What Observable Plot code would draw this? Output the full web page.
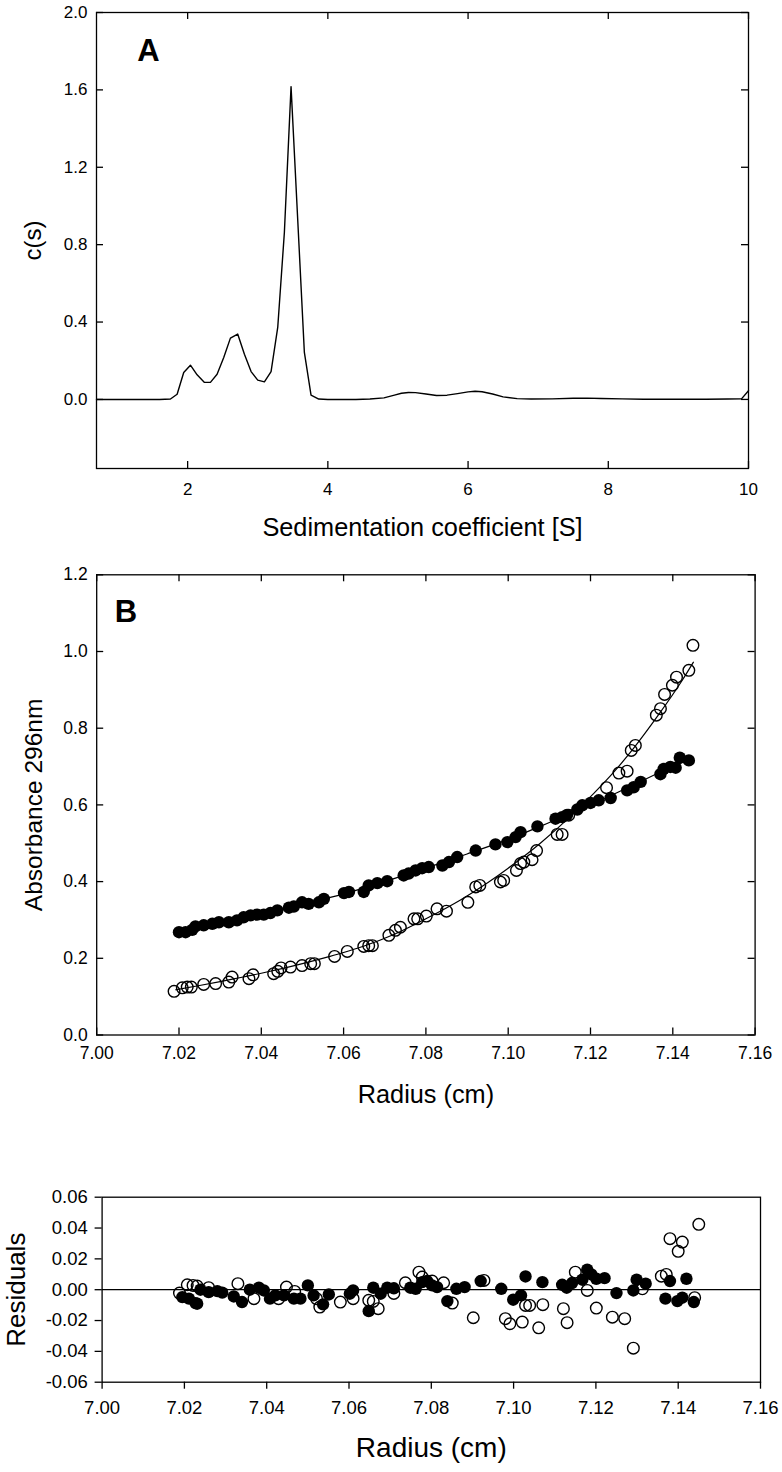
<!DOCTYPE html>
<html><head><meta charset="utf-8">
<script src="https://cdn.jsdelivr.net/npm/d3@7"></script>
<script src="https://cdn.jsdelivr.net/npm/@observablehq/plot@0.6"></script>
<style>
html,body{margin:0;padding:0;background:#fff;}
#chart{position:relative;width:782px;height:1472px;overflow:hidden;background:#fff;}
#chart svg{position:absolute;left:0;}
</style></head><body><div id="chart"></div>
<script>
// ---------- Panel A: c(s) distribution ----------
const sedCoeff = [0.70, 1.00, 1.30, 1.60, 1.755, 1.85, 1.944, 2.04, 2.135, 2.24, 2.325, 2.42, 2.515, 2.61, 2.714, 2.81, 2.905, 3.00, 3.095, 3.19, 3.285, 3.38, 3.475, 3.57, 3.665, 3.76, 3.87, 4.00, 4.20, 4.40, 4.60, 4.80, 4.95, 5.05, 5.15, 5.25, 5.40, 5.55, 5.70, 5.85, 6.00, 6.10, 6.20, 6.35, 6.50, 6.70, 6.90, 7.20, 7.50, 7.70, 7.90, 8.20, 8.50, 8.80, 9.10, 9.40, 9.70, 9.90, 10.00];
const csValues = [0, 0, 0, 0, 0.002, 0.027, 0.139, 0.177, 0.127, 0.088, 0.088, 0.130, 0.217, 0.317, 0.338, 0.234, 0.144, 0.100, 0.091, 0.144, 0.372, 0.864, 1.617, 0.930, 0.243, 0.022, 0.002, 0, 0, 0, 0.002, 0.008, 0.022, 0.032, 0.036, 0.035, 0.028, 0.020, 0.022, 0.030, 0.039, 0.042, 0.040, 0.028, 0.013, 0.004, 0.002, 0.003, 0.006, 0.007, 0.005, 0.003, 0.001, 0.001, 0.001, 0.001, 0.002, 0.003, 0.045];
const sedTicks = [2, 4, 6, 8, 10];
const csTicks = [0.0, 0.4, 0.8, 1.2, 1.6, 2.0];

// ---------- Panel B: absorbance scans ----------
const filledRadius = [7.0200, 7.0216, 7.0232, 7.0240, 7.0260, 7.0281, 7.0297, 7.0321, 7.0341, 7.0357, 7.0374, 7.0390, 7.0406, 7.0422, 7.0439, 7.0467, 7.0479, 7.0499, 7.0515, 7.0540, 7.0552, 7.0601, 7.0613, 7.0649, 7.0661, 7.0682, 7.0706, 7.0746, 7.0758, 7.0775, 7.0791, 7.0807, 7.0840, 7.0856, 7.0876, 7.0921, 7.0969, 7.0998, 7.1018, 7.1030, 7.1071, 7.1115, 7.1131, 7.1143, 7.1168, 7.1180, 7.1200, 7.1220, 7.1249, 7.1289, 7.1305, 7.1322, 7.1370, 7.1378, 7.1394, 7.1407, 7.1417, 7.1439];
const filledAbs = [0.268, 0.268, 0.274, 0.283, 0.286, 0.290, 0.294, 0.294, 0.299, 0.307, 0.312, 0.314, 0.314, 0.318, 0.325, 0.332, 0.335, 0.346, 0.342, 0.346, 0.355, 0.370, 0.373, 0.373, 0.390, 0.396, 0.401, 0.416, 0.421, 0.429, 0.435, 0.438, 0.442, 0.451, 0.464, 0.481, 0.497, 0.503, 0.516, 0.529, 0.544, 0.564, 0.568, 0.574, 0.588, 0.599, 0.605, 0.612, 0.618, 0.638, 0.646, 0.660, 0.680, 0.694, 0.699, 0.697, 0.723, 0.716];
const openRadius = [7.0188, 7.0208, 7.0220, 7.0230, 7.0260, 7.0289, 7.0321, 7.0329, 7.0370, 7.0380, 7.0430, 7.0440, 7.0448, 7.0471, 7.0499, 7.0520, 7.0529, 7.0578, 7.0609, 7.0649, 7.0661, 7.0670, 7.0710, 7.0726, 7.0738, 7.0771, 7.0780, 7.0801, 7.0827, 7.0850, 7.0902, 7.0921, 7.0931, 7.0981, 7.0989, 7.1020, 7.1030, 7.1038, 7.1058, 7.1069, 7.1119, 7.1131, 7.1147, 7.1239, 7.1269, 7.1289, 7.1299, 7.1309, 7.1360, 7.1370, 7.1380, 7.1399, 7.1409, 7.1439, 7.1449];
const openAbs = [0.114, 0.123, 0.125, 0.125, 0.132, 0.134, 0.138, 0.151, 0.147, 0.157, 0.160, 0.166, 0.175, 0.177, 0.181, 0.186, 0.186, 0.205, 0.218, 0.231, 0.233, 0.233, 0.260, 0.273, 0.281, 0.303, 0.303, 0.310, 0.329, 0.323, 0.346, 0.386, 0.390, 0.399, 0.403, 0.429, 0.447, 0.451, 0.457, 0.481, 0.523, 0.523, 0.573, 0.645, 0.683, 0.688, 0.742, 0.755, 0.834, 0.851, 0.888, 0.912, 0.933, 0.951, 1.016];
const filledFitRadius = [7.020, 7.030, 7.040, 7.050, 7.060, 7.070, 7.080, 7.090, 7.100, 7.110, 7.120, 7.130, 7.140, 7.144];
const filledFitAbs = [0.267, 0.290, 0.313, 0.340, 0.368, 0.400, 0.435, 0.472, 0.510, 0.554, 0.600, 0.650, 0.700, 0.718];
const openFitRadius = [7.0192, 7.025, 7.030, 7.035, 7.040, 7.045, 7.050, 7.056, 7.060, 7.065, 7.0722, 7.080, 7.0884, 7.095, 7.100, 7.1078, 7.1159, 7.1208, 7.1257, 7.1305, 7.1362, 7.1423, 7.1450];
const openFitAbs = [0.118, 0.129, 0.139, 0.150, 0.161, 0.173, 0.186, 0.203, 0.215, 0.232, 0.262, 0.303, 0.352, 0.397, 0.435, 0.500, 0.578, 0.630, 0.686, 0.748, 0.830, 0.925, 0.972];
const radiusTicks = [7.00, 7.02, 7.04, 7.06, 7.08, 7.10, 7.12, 7.14, 7.16];
const absTicks = [0.0, 0.2, 0.4, 0.6, 0.8, 1.0, 1.2];

// ---------- Panel C: residuals ----------
const resFilledRadius = [7.0195, 7.0211, 7.0227, 7.0231, 7.0239, 7.0259, 7.0280, 7.0292, 7.0320, 7.0340, 7.0359, 7.0381, 7.0393, 7.0408, 7.0421, 7.0442, 7.0466, 7.0482, 7.0500, 7.0514, 7.0537, 7.0551, 7.0602, 7.0610, 7.0648, 7.0659, 7.0677, 7.0693, 7.0709, 7.0749, 7.0762, 7.0778, 7.0790, 7.0802, 7.0814, 7.0839, 7.0861, 7.0881, 7.0920, 7.0970, 7.0999, 7.1018, 7.1029, 7.1070, 7.1118, 7.1129, 7.1142, 7.1167, 7.1179, 7.1189, 7.1201, 7.1221, 7.1250, 7.1291, 7.1299, 7.1321, 7.1369, 7.1380, 7.1398, 7.1410, 7.1420, 7.1438];
const resFilled = [-0.0048, -0.0058, -0.0087, -0.0091, 0.0000, -0.0016, -0.0009, -0.0019, -0.0044, -0.0080, 0.0000, 0.0013, -0.0005, -0.0058, -0.0037, -0.0037, -0.0058, -0.0058, 0.0028, -0.0037, -0.0095, -0.0031, -0.0026, -0.0005, -0.0139, 0.0013, -0.0026, 0.0013, 0.0009, 0.0013, 0.0006, 0.0049, 0.0056, 0.0028, 0.0017, -0.0074, 0.0006, 0.0017, 0.0056, 0.0006, -0.0065, -0.0037, 0.0086, 0.0049, 0.0032, 0.0013, 0.0043, 0.0065, 0.0130, 0.0099, 0.0071, 0.0075, -0.0022, -0.0005, 0.0065, 0.0039, -0.0058, 0.0056, -0.0074, -0.0052, 0.0071, -0.0080];
const resOpenRadius = [7.0188, 7.0207, 7.0221, 7.0231, 7.0259, 7.0330, 7.0369, 7.0429, 7.0448, 7.0468, 7.0521, 7.0529, 7.0579, 7.0610, 7.0648, 7.0659, 7.0671, 7.0709, 7.0737, 7.0770, 7.0778, 7.0802, 7.0830, 7.0851, 7.0902, 7.0928, 7.0980, 7.0991, 7.1021, 7.1029, 7.1039, 7.1061, 7.1071, 7.1121, 7.1130, 7.1150, 7.1179, 7.1201, 7.1240, 7.1270, 7.1291, 7.1313, 7.1359, 7.1371, 7.1380, 7.1400, 7.1410, 7.1440, 7.1450];
const resOpen = [-0.0022, 0.0032, 0.0028, 0.0024, 0.0013, 0.0039, -0.0058, -0.0058, 0.0017, -0.0011, -0.0058, -0.0113, -0.0080, -0.0058, -0.0069, -0.0076, -0.0123, -0.0024, 0.0045, 0.0114, 0.0082, 0.0056, 0.0045, -0.0087, -0.0182, 0.0060, -0.0188, -0.0221, -0.0210, -0.0102, -0.0102, -0.0247, -0.0097, -0.0123, -0.0214, 0.0114, -0.0005, -0.0119, -0.0178, -0.0188, -0.0379, 0.0006, 0.0088, 0.0099, 0.0331, 0.0249, 0.0309, -0.0052, 0.0424];
const residualTicks = [-0.06, -0.04, -0.02, 0.00, 0.02, 0.04, 0.06];

// ---------- helpers ----------
const FONT = "'Liberation Sans', Arial, Helvetica, sans-serif";
const zip = (xs, ys) => xs.map((x, i) => ({x, y: ys[i]}));
const INK = "#000";
const SW = 1.3;
const TICK = 7;

function innerTicks(xt, yt, fw, fh) {
  return [
    Plot.ruleX(xt, {x: d => d, insetTop: fh - TICK, stroke: INK, strokeWidth: SW}),
    Plot.ruleX(xt, {x: d => d, insetBottom: fh - TICK, stroke: INK, strokeWidth: SW}),
    Plot.ruleY(yt, {y: d => d, insetRight: fw - TICK, stroke: INK, strokeWidth: SW}),
    Plot.ruleY(yt, {y: d => d, insetLeft: fw - TICK, stroke: INK, strokeWidth: SW})
  ];
}

const chart = document.getElementById("chart");

// ---------- Panel A ----------
{
  const W = 782, H = 550, mL = 96, mR = 34, mT = 12, mB = 82;
  const fw = W - mL - mR, fh = H - mT - mB;
  const p = Plot.plot({
    width: W, height: H, marginLeft: mL, marginRight: mR, marginTop: mT, marginBottom: mB,
    style: {fontFamily: FONT, fontSize: "17px", color: INK, background: "transparent", overflow: "visible"},
    x: {domain: [0.7, 10]},
    y: {domain: [-0.357, 2.0]},
    marks: [
      ...innerTicks(sedTicks, csTicks, fw, fh),
      Plot.axisX({ticks: sedTicks, tickSize: 0, tickPadding: 14, tickFormat: d => String(d), label: null, fontSize: 17, fill: INK}),
      Plot.axisY({ticks: csTicks, tickSize: 0, tickPadding: 9, tickFormat: d => d.toFixed(1), label: null, fontSize: 17, fill: INK}),
      Plot.line(zip(sedCoeff, csValues), {x: "x", y: "y", stroke: INK, strokeWidth: 1.4}),
      Plot.frame({stroke: INK, strokeWidth: SW}),
      Plot.text(["A"], {text: d => d, frameAnchor: "top-left", dx: 40.7, dy: 48.7, textAnchor: "start", lineAnchor: "bottom", fontSize: 31, fontWeight: "bold", fill: INK}),
      Plot.text(["Sedimentation coefficient [S]"], {text: d => d, frameAnchor: "bottom", dy: 67.5, textAnchor: "middle", lineAnchor: "bottom", fontSize: 25.3, fill: INK}),
      Plot.text(["c(s)"], {text: d => d, frameAnchor: "left", dx: 40 - mL, rotate: -90, textAnchor: "middle", lineAnchor: "bottom", fontSize: 24, fill: INK})
    ]
  });
  p.style.top = "0px";
  chart.appendChild(p);
}

// ---------- Panel B ----------
{
  const W = 782, H = 570, mL = 96.2, mR = 27.4, mT = 24.3, mB = 85.5;
  const fw = W - mL - mR, fh = H - mT - mB;
  const p = Plot.plot({
    width: W, height: H, marginLeft: mL, marginRight: mR, marginTop: mT, marginBottom: mB,
    style: {fontFamily: FONT, fontSize: "17px", color: INK, background: "transparent", overflow: "visible"},
    x: {domain: [7.00, 7.16]},
    y: {domain: [0, 1.2]},
    marks: [
      ...innerTicks(radiusTicks, absTicks, fw, fh),
      Plot.axisX({ticks: radiusTicks, tickSize: 0, tickPadding: 12, tickFormat: d => d.toFixed(2), label: null, fontSize: 17.5, fill: INK}),
      Plot.axisY({ticks: absTicks, tickSize: 0, tickPadding: 9, tickFormat: d => d.toFixed(1), label: null, fontSize: 17.5, fill: INK}),
      Plot.line(zip(filledFitRadius, filledFitAbs), {x: "x", y: "y", stroke: INK, strokeWidth: 1.2, curve: "monotone-x"}),
      Plot.line(zip(openFitRadius, openFitAbs), {x: "x", y: "y", stroke: INK, strokeWidth: 1.2, curve: "monotone-x"}),
      Plot.dot(zip(filledRadius, filledAbs), {x: "x", y: "y", r: 6.2, fill: INK, stroke: "none"}),
      Plot.dot(zip(openRadius, openAbs), {x: "x", y: "y", r: 5.8, fill: "none", stroke: INK, strokeWidth: 1.4}),
      Plot.frame({stroke: INK, strokeWidth: SW}),
      Plot.text(["B"], {text: d => d, frameAnchor: "top-left", dx: 18, dy: 47.4, textAnchor: "start", lineAnchor: "bottom", fontSize: 31, fontWeight: "bold", fill: INK}),
      Plot.text(["Radius (cm)"], {text: d => d, frameAnchor: "bottom", dy: 67.5, textAnchor: "middle", lineAnchor: "bottom", fontSize: 25.3, fill: INK}),
      Plot.text(["Absorbance 296nm"], {text: d => d, frameAnchor: "left", dx: 41.7 - mL, rotate: -90, textAnchor: "middle", lineAnchor: "bottom", fontSize: 24.5, fill: INK})
    ]
  });
  p.style.top = "550px";
  chart.appendChild(p);
}

// ---------- Panel C: residuals ----------
{
  const W = 782, H = 352, mL = 101.6, mR = 22, mT = 76.7, mB = 90.3;
  const p = Plot.plot({
    width: W, height: H, marginLeft: mL, marginRight: mR, marginTop: mT, marginBottom: mB,
    style: {fontFamily: FONT, fontSize: "18.5px", color: INK, background: "transparent", overflow: "visible"},
    x: {domain: [7.00, 7.16]},
    y: {domain: [-0.06, 0.06]},
    marks: [
      Plot.axisX({ticks: radiusTicks, tickSize: TICK, tickPadding: 11.3, strokeWidth: SW, tickFormat: d => d.toFixed(2), label: null, fontSize: 18.5, fill: INK, stroke: INK}),
      Plot.axisY({ticks: residualTicks, tickSize: TICK, tickPadding: 7.3, strokeWidth: SW, tickFormat: d => (Math.abs(d) < 1e-9 ? 0 : d).toFixed(2), label: null, fontSize: 18.5, fill: INK, stroke: INK}),
      Plot.ruleY([0], {stroke: INK, strokeWidth: SW}),
      Plot.dot(zip(resFilledRadius, resFilled), {x: "x", y: "y", r: 6.2, fill: INK, stroke: "none"}),
      Plot.dot(zip(resOpenRadius, resOpen), {x: "x", y: "y", r: 5.8, fill: "none", stroke: INK, strokeWidth: 1.4}),
      Plot.frame({stroke: INK, strokeWidth: SW}),
      Plot.text(["Radius (cm)"], {text: d => d, frameAnchor: "bottom", dy: 75, textAnchor: "middle", lineAnchor: "bottom", fontSize: 28, fill: INK}),
      Plot.text(["Residuals"], {text: d => d, frameAnchor: "left", dx: 24 - mL, rotate: -90, textAnchor: "middle", lineAnchor: "bottom", fontSize: 26, fill: INK})
    ]
  });
  p.style.top = "1120px";
  chart.appendChild(p);
}
</script>
</body></html>
